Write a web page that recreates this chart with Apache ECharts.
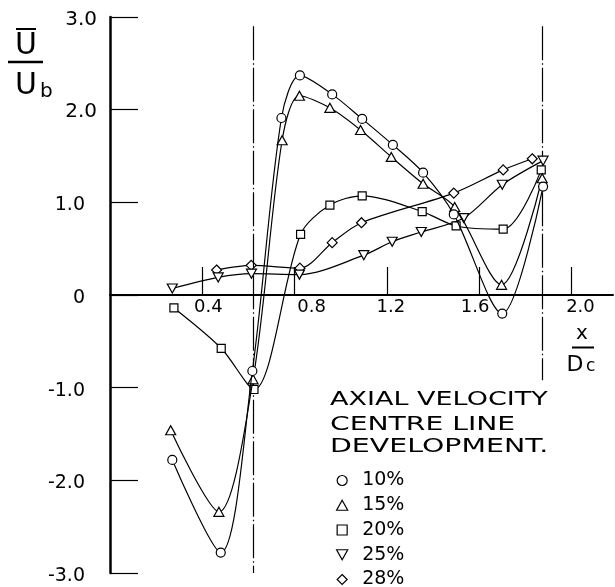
<!DOCTYPE html>
<html><head><meta charset="utf-8">
<script src="https://cdn.jsdelivr.net/npm/echarts@6/dist/echarts.min.js"></script>
<style>html,body{margin:0;padding:0;background:#fff}#c{width:615px;height:587px}</style>
</head><body><div id="c"></div>
<script>
// ---- data ----
const seriesNames = ['10%', '15%', '20%', '25%', '28%'];
const x10 = [0.27, 0.48, 0.617, 0.743, 0.823, 0.963, 1.093, 1.226, 1.357, 1.49, 1.70, 1.877];
const y10 = [-1.78, -2.78, -0.82, 1.91, 2.37, 2.165, 1.90, 1.62, 1.32, 0.87, -0.20, 1.17];
const x15 = [0.263, 0.472, 0.62, 0.746, 0.821, 0.953, 1.086, 1.219, 1.357, 1.494, 1.697, 1.873];
const y15 = [-1.46, -2.34, -0.91, 1.67, 2.15, 2.02, 1.78, 1.49, 1.20, 0.95, 0.11, 1.26];
const x20 = [0.277, 0.482, 0.624, 0.826, 0.953, 1.093, 1.353, 1.50, 1.704, 1.869];
const y20 = [-0.14, -0.575, -1.02, 0.655, 0.97, 1.07, 0.90, 0.745, 0.71, 1.35];
const x25 = [0.27, 0.469, 0.613, 0.821, 1.10, 1.223, 1.349, 1.533, 1.70, 1.877];
const y25 = [0.07, 0.19, 0.23, 0.22, 0.43, 0.575, 0.68, 0.83, 1.19, 1.45];
const x28 = [0.462, 0.612, 0.823, 0.963, 1.09, 1.49, 1.704, 1.83];
const y28 = [0.27, 0.32, 0.29, 0.565, 0.78, 1.10, 1.35, 1.47];
const xTicks = [0.4, 0.8, 1.2, 1.6, 2.0];
const yTicks = [-3, -2, -1, 0, 1, 2, 3];
const refLineX = [0.62, 1.872];
const refLineTop = [2.9, 2.9];
const refLineBottom = [-3.0, -0.92];
const titleLines = ['AXIAL VELOCITY', 'CENTRE LINE', 'DEVELOPMENT.'];

// ---- chart ----
const F = '"DejaVu Sans", sans-serif';
const zip = (xs, ys) => xs.map((x, i) => [x, ys[i]]);
const symbols = [
  'path://M10,5A5,5,0,1,1,0,5A5,5,0,1,1,10,5Z',
  'path://M5,0L10,9L0,9Z',
  'path://M0,0L10,0L10,10L0,10Z',
  'path://M0,0L10,0L5,9Z',
  'path://M5,0L10,5L5,10L0,5Z'
];
const symbolSizes = [9, [10, 9], 8, [10, 9], 10];
const datasets = [zip(x10, y10), zip(x15, y15), zip(x20, y20), zip(x25, y25), zip(x28, y28)];

const series = [];
for (let i = seriesNames.length - 1; i >= 0; i--) {
  series.push({
    name: seriesNames[i],
    type: 'line',
    data: datasets[i],
    smooth: 0.3,
    symbol: symbols[i],
    symbolSize: symbolSizes[i],
    showAllSymbol: true,
    lineStyle: { color: '#000', width: 1.2 },
    itemStyle: { color: '#fff', borderColor: '#000', borderWidth: 1.2 },
    emphasis: { disabled: true },
    z: 3 + (seriesNames.length - i)
  });
}
series.push({
  name: 'ref',
  type: 'line',
  data: [],
  silent: true,
  markLine: {
    silent: true,
    symbol: 'none',
    label: { show: false },
    lineStyle: { color: '#000', width: 1.2, type: [34, 3, 1.5, 3] },
    emphasis: { disabled: true },
    data: refLineX.map((x, i) => [{ coord: [x, refLineTop[i]] }, { coord: [x, refLineBottom[i]] }])
  }
});

const xPad = { '0.4': [0, 0, 0, 12], '0.8': [0, 0, 0, 34], '1.2': [0, 0, 0, 8], '1.6': [0, 8, 0, 0], '2.0': [0, 0, 0, 18] };
const xRich = {};
Object.keys(xPad).forEach((k, i) => {
  xRich['p' + i] = { padding: xPad[k], fontFamily: F, fontSize: 18, color: '#000' };
});

const titleScale = [1.35, 1.41, 1.42];
const titleY = [400, 425, 447];

const chart = echarts.init(document.getElementById('c'), null, { renderer: 'canvas' });
chart.setOption({
  animation: false,
  backgroundColor: '#fff',
  grid: { left: 110, top: 17, width: 503, bottom: 14, containLabel: false },
  xAxis: {
    type: 'value', min: 0, max: 2.18, position: 'bottom', offset: -278,
    axisLine: { onZero: false, lineStyle: { color: '#000', width: 2 } },
    axisTick: { show: true, inside: true, length: 28, customValues: xTicks, lineStyle: { color: '#000', width: 1.2 } },
    axisLabel: {
      customValues: xTicks, margin: 3,
      formatter: v => '{p' + xTicks.findIndex(t => Math.abs(t - v) < 1e-6) + '|' + v.toFixed(1) + '}',
      rich: xRich, fontFamily: F, fontSize: 18, color: '#000'
    },
    splitLine: { show: false }
  },
  yAxis: {
    type: 'value', min: -3, max: 3,
    axisLine: { show: true, onZero: false, lineStyle: { color: '#000', width: 2.5 } },
    axisTick: { show: true, inside: true, length: 28, customValues: yTicks, lineStyle: { color: '#000', width: 1.2 } },
    axisLabel: {
      customValues: yTicks, margin: 13,
      formatter: v => {
        const t = v === 0 ? '0' : v.toFixed(1);
        return (v >= 2 ? '{h|' : '{n|') + t + '}';
      },
      rich: {
        h: { padding: [5, 0, 0, 0], fontFamily: F, fontSize: 20, color: '#000' },
        n: { padding: [6, 12, 0, 0], fontFamily: F, fontSize: 19, color: '#000' }
      },
      fontFamily: F, fontSize: 19, color: '#000'
    },
    splitLine: { show: false }
  },
  legend: {
    orient: 'vertical', left: 336, top: 471, height: 140, padding: 0,
    itemWidth: 30, itemHeight: 10, itemGap: 5.75, symbolKeepAspect: true,
    data: seriesNames.map((n, i) => ({ name: n, icon: symbols[i] })),
    itemStyle: { color: '#fff', borderColor: '#000', borderWidth: 1.2 },
    textStyle: { fontFamily: F, fontSize: 19, color: '#000', lineHeight: 18 },
    selectedMode: false
  },
  graphic: [
    ...titleLines.map((t, i) => ({
      type: 'text', x: 330, y: titleY[i], scaleX: titleScale[i], originX: 0, originY: 0,
      style: { text: t, font: '20px ' + F, fill: '#000', textAlign: 'left', textVerticalAlign: 'middle', align: 'left', verticalAlign: 'middle' }
    })),
    { type: 'text', x: 26, y: 46, style: { text: 'U', font: '30px ' + F, fill: '#000', textAlign: 'center', textVerticalAlign: 'middle', align: 'center', verticalAlign: 'middle' } },
    { type: 'line', shape: { x1: 16, y1: 29, x2: 36, y2: 29 }, style: { stroke: '#000', lineWidth: 2 } },
    { type: 'line', shape: { x1: 8, y1: 62, x2: 43, y2: 62 }, style: { stroke: '#000', lineWidth: 2.5 } },
    { type: 'text', x: 26, y: 86.5, style: { text: 'U', font: '30px ' + F, fill: '#000', textAlign: 'center', textVerticalAlign: 'middle', align: 'center', verticalAlign: 'middle' } },
    { type: 'text', x: 40, y: 92, style: { text: 'b', font: '20px ' + F, fill: '#000', textAlign: 'left', textVerticalAlign: 'middle', align: 'left', verticalAlign: 'middle' } },
    { type: 'text', x: 582, y: 334, style: { text: 'x', font: '20px ' + F, fill: '#000', textAlign: 'center', textVerticalAlign: 'middle', align: 'center', verticalAlign: 'middle' } },
    { type: 'line', shape: { x1: 572, y1: 347.5, x2: 594, y2: 347.5 }, style: { stroke: '#000', lineWidth: 2 } },
    { type: 'text', x: 575, y: 365, style: { text: 'D', font: '22px ' + F, fill: '#000', textAlign: 'center', textVerticalAlign: 'middle', align: 'center', verticalAlign: 'middle' } },
    { type: 'text', x: 586, y: 367, style: { text: 'c', font: '17px ' + F, fill: '#000', textAlign: 'left', textVerticalAlign: 'middle', align: 'left', verticalAlign: 'middle' } }
  ],
  series: series
});
</script>
</body></html>
